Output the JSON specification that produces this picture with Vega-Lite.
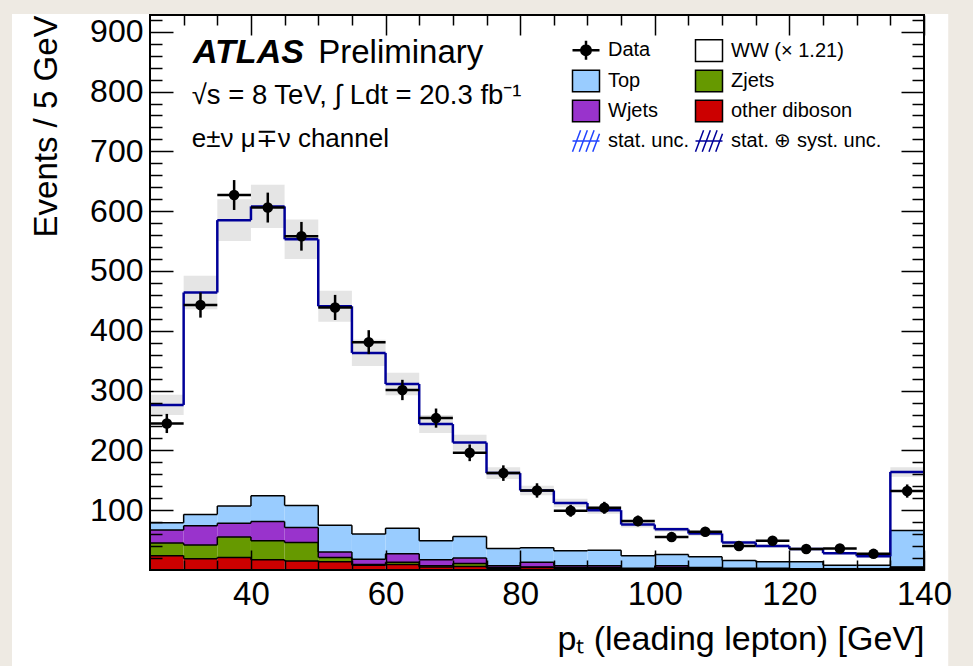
{
  "$schema": "https://vega.github.io/schema/vega-lite/v6.json",
  "width": 774,
  "height": 555,
  "autosize": {"type": "none"},
  "padding": {"left": 150, "top": 15, "right": 49, "bottom": 96},
  "background": "#eeeae3",
  "config": {
    "view": {"stroke": null},
    "font": "Liberation Sans",
    "axis": {"domain": false, "grid": false, "tickColor": "black", "labelColor": "black", "titleColor": "black", "labelFont": "Liberation Sans", "titleFont": "Liberation Sans", "titleFontWeight": "normal", "tickWidth": 1.5}
  },
  "datasets": {
    "bins": [
      {"lo": 25, "hi": 30, "pt": 27.5, "obs": 245, "err": 16, "mc": 276, "blo": 259, "bhi": 293, "s1_dib": 24, "s2_zjets": 21, "s3_wjets": 22, "s4_top": 12, "s5_ww": 197},
      {"lo": 30, "hi": 35, "pt": 32.5, "obs": 443, "err": 21, "mc": 464, "blo": 436, "bhi": 492, "s1_dib": 19, "s2_zjets": 23, "s3_wjets": 32, "s4_top": 19, "s5_ww": 371},
      {"lo": 35, "hi": 40, "pt": 37.5, "obs": 627, "err": 25, "mc": 585, "blo": 550, "bhi": 620, "s1_dib": 21, "s2_zjets": 34, "s3_wjets": 23, "s4_top": 29, "s5_ww": 478},
      {"lo": 40, "hi": 45, "pt": 42.5, "obs": 606, "err": 25, "mc": 608, "blo": 572, "bhi": 644, "s1_dib": 17, "s2_zjets": 32, "s3_wjets": 32, "s4_top": 43, "s5_ww": 484},
      {"lo": 45, "hi": 50, "pt": 47.5, "obs": 558, "err": 24, "mc": 553, "blo": 520, "bhi": 586, "s1_dib": 15, "s2_zjets": 31, "s3_wjets": 25, "s4_top": 37, "s5_ww": 445},
      {"lo": 50, "hi": 55, "pt": 52.5, "obs": 439, "err": 21, "mc": 441, "blo": 415, "bhi": 467, "s1_dib": 14, "s2_zjets": 7, "s3_wjets": 9, "s4_top": 45, "s5_ww": 366},
      {"lo": 55, "hi": 60, "pt": 57.5, "obs": 381, "err": 20, "mc": 363, "blo": 341, "bhi": 385, "s1_dib": 8, "s2_zjets": 1, "s3_wjets": 9, "s4_top": 42, "s5_ww": 303},
      {"lo": 60, "hi": 65, "pt": 62.5, "obs": 301, "err": 17, "mc": 311, "blo": 292, "bhi": 330, "s1_dib": 9, "s2_zjets": 4, "s3_wjets": 14, "s4_top": 43, "s5_ww": 241},
      {"lo": 65, "hi": 70, "pt": 67.5, "obs": 254, "err": 16, "mc": 244, "blo": 229, "bhi": 259, "s1_dib": 5, "s2_zjets": 2, "s3_wjets": 10, "s4_top": 32, "s5_ww": 195},
      {"lo": 70, "hi": 75, "pt": 72.5, "obs": 196, "err": 14, "mc": 213, "blo": 200, "bhi": 226, "s1_dib": 6, "s2_zjets": 5, "s3_wjets": 9, "s4_top": 36, "s5_ww": 157},
      {"lo": 75, "hi": 80, "pt": 77.5, "obs": 162, "err": 13, "mc": 162, "blo": 152, "bhi": 172, "s1_dib": 3, "s2_zjets": 1, "s3_wjets": 3, "s4_top": 29, "s5_ww": 126},
      {"lo": 80, "hi": 85, "pt": 82.5, "obs": 133, "err": 12, "mc": 133, "blo": 125, "bhi": 141, "s1_dib": 4, "s2_zjets": 1, "s3_wjets": 8, "s4_top": 24, "s5_ww": 96},
      {"lo": 85, "hi": 90, "pt": 87.5, "obs": 99, "err": 10, "mc": 112, "blo": 105, "bhi": 119, "s1_dib": 3, "s2_zjets": 1, "s3_wjets": 3, "s4_top": 25, "s5_ww": 80},
      {"lo": 90, "hi": 95, "pt": 92.5, "obs": 104, "err": 10, "mc": 100, "blo": 94, "bhi": 106, "s1_dib": 3, "s2_zjets": 1, "s3_wjets": 3, "s4_top": 26, "s5_ww": 67},
      {"lo": 95, "hi": 100, "pt": 97.5, "obs": 82, "err": 9, "mc": 76, "blo": 71, "bhi": 81, "s1_dib": 2, "s2_zjets": 0, "s3_wjets": 1, "s4_top": 21, "s5_ww": 52},
      {"lo": 100, "hi": 105, "pt": 102.5, "obs": 55, "err": 7, "mc": 68, "blo": 64, "bhi": 72, "s1_dib": 3, "s2_zjets": 1, "s3_wjets": 3, "s4_top": 19, "s5_ww": 42},
      {"lo": 105, "hi": 110, "pt": 107.5, "obs": 64, "err": 8, "mc": 61, "blo": 57, "bhi": 65, "s1_dib": 2, "s2_zjets": 1, "s3_wjets": 1, "s4_top": 18, "s5_ww": 39},
      {"lo": 110, "hi": 115, "pt": 112.5, "obs": 40, "err": 6, "mc": 46, "blo": 43, "bhi": 49, "s1_dib": 1, "s2_zjets": 1, "s3_wjets": 1, "s4_top": 13, "s5_ww": 30},
      {"lo": 115, "hi": 120, "pt": 117.5, "obs": 49, "err": 7, "mc": 40, "blo": 37, "bhi": 43, "s1_dib": 1, "s2_zjets": 1, "s3_wjets": 1, "s4_top": 11, "s5_ww": 26},
      {"lo": 120, "hi": 125, "pt": 122.5, "obs": 35, "err": 6, "mc": 35, "blo": 33, "bhi": 37, "s1_dib": 1, "s2_zjets": 0, "s3_wjets": 1, "s4_top": 12, "s5_ww": 21},
      {"lo": 125, "hi": 130, "pt": 127.5, "obs": 36, "err": 6, "mc": 28, "blo": 26, "bhi": 30, "s1_dib": 1, "s2_zjets": 0, "s3_wjets": 1, "s4_top": 6, "s5_ww": 20},
      {"lo": 130, "hi": 135, "pt": 132.5, "obs": 27, "err": 5, "mc": 23, "blo": 21, "bhi": 25, "s1_dib": 1, "s2_zjets": 0, "s3_wjets": 1, "s4_top": 6, "s5_ww": 15},
      {"lo": 135, "hi": 140, "pt": 137.5, "obs": 132, "err": 11, "mc": 164, "blo": 156, "bhi": 172, "s1_dib": 3, "s2_zjets": 1, "s3_wjets": 1, "s4_top": 61, "s5_ww": 98}
    ]
  },
  "layer": [
    {
      "data": {"values": [{"panel": "bg"}]},
      "mark": {"type": "rect", "fill": "white", "clip": false},
      "encoding": {
        "x": {"datum": 4.5, "type": "quantitative", "scale": {"domain": [25, 140], "nice": false, "zero": false}, "axis": null},
        "x2": {"datum": 143.6},
        "y": {"datum": 929.7, "type": "quantitative", "scale": {"domain": [0, 928], "nice": false, "zero": false}, "axis": null},
        "y2": {"datum": -175}
      }
    },
    {
      "data": {"name": "bins"},
      "transform": [
        {"fold": ["s1_dib", "s2_zjets", "s3_wjets", "s4_top", "s5_ww"]},
        {"stack": "value", "groupby": ["lo"], "sort": [{"field": "key"}], "as": ["y0", "y1"]}
      ],
      "mark": {"type": "rect", "strokeWidth": 0},
      "encoding": {
        "x": {"field": "lo", "type": "quantitative", "scale": {"domain": [25, 140], "nice": false, "zero": false},
          "axis": {"orient": "bottom", "zindex": 2, "values": [40, 60, 80, 100, 120, 140], "tickSize": -20, "labelPadding": 28, "labelFontSize": 33, "labelFlush": false, "title": "pₜ (leading lepton) [GeV]", "titleFontSize": 34, "titleAnchor": "end", "titleAlign": "right", "titlePadding": 11}},
        "x2": {"field": "hi"},
        "y": {"field": "y1", "type": "quantitative", "scale": {"domain": [0, 928], "nice": false, "zero": false},
          "axis": {"orient": "left", "zindex": 2, "values": [100, 200, 300, 400, 500, 600, 700, 800, 900], "tickSize": -23, "labelPadding": 30, "labelFontSize": 32, "title": "Events / 5 GeV", "titleFontSize": 33, "titleAnchor": "end", "titlePadding": 26}},
        "y2": {"field": "y0"},
        "color": {"field": "key", "type": "nominal",
          "scale": {"domain": ["data", "s4_top", "s3_wjets", "stat", "s5_ww", "s2_zjets", "s1_dib", "syst"],
                    "range": ["#000000", "#99ccff", "#9933cc", "rgba(0,0,0,0)", "#ffffff", "#669900", "#cc0000", "rgba(0,0,0,0)"]},
          "legend": {
            "title": null, "orient": "none", "legendX": 426, "legendY": 25, "columns": 2, "padding": 0,
            "labelFont": "Liberation Sans", "labelFontSize": 20, "labelColor": "black", "labelOffset": 12, "labelLimit": 400,
            "symbolSize": 729, "symbolStrokeColor": "black", "symbolStrokeWidth": 1.5, "symbolOpacity": 1,
            "rowPadding": 2, "columnPadding": 2,
            "labelExpr": "datum.value === 'data' ? 'Data' : datum.value === 's5_ww' ? 'WW  (× 1.21)' : datum.value === 's4_top' ? 'Top' : datum.value === 's2_zjets' ? 'Zjets' : datum.value === 's3_wjets' ? 'Wjets' : datum.value === 's1_dib' ? 'other diboson' : datum.value === 'stat' ? 'stat. unc.' : 'stat. ⊕ syst. unc.'",
            "encode": {"symbols": {"update": {
              "shape": {"signal": "datum.value === 'data' ? 'M-1,0H1M0,-0.7V0.7M-0.35,0A0.35,0.35 0 1,0 0.35,0A0.35,0.35 0 1,0 -0.35,0' : (datum.value === 'stat' || datum.value === 'syst') ? 'M-1,0H1M-1,0.8L-0.4,-0.8M-0.5,0.8L0.1,-0.8M0,0.8L0.6,-0.8M0.5,0.8L1,-0.53' : 'M-1,-0.8H1V0.8H-1Z'"},
              "stroke": {"signal": "datum.value === 'stat' ? '#2244ff' : datum.value === 'syst' ? '#000099' : 'black'"},
              "strokeWidth": {"signal": "datum.value === 'data' ? 2.5 : 1.5"}
            }}}
          }}
      }
    },
    {
      "data": {"name": "bins"},
      "mark": {"type": "rect", "fill": "#999999", "opacity": 0.25},
      "encoding": {
        "x": {"field": "lo", "type": "quantitative", "scale": {"domain": [25, 140], "nice": false, "zero": false},
          "axis": {"orient": "bottom", "zindex": 2, "values": [30, 35, 45, 50, 55, 65, 70, 75, 85, 90, 95, 105, 110, 115, 125, 130, 135], "tickSize": -10, "labels": false, "title": null}},
        "x2": {"field": "hi"},
        "y": {"field": "blo", "type": "quantitative", "scale": {"domain": [0, 928], "nice": false, "zero": false},
          "axis": {"orient": "left", "zindex": 2, "values": [20, 40, 60, 80, 120, 140, 160, 180, 220, 240, 260, 280, 320, 340, 360, 380, 420, 440, 460, 480, 520, 540, 560, 580, 620, 640, 660, 680, 720, 740, 760, 780, 820, 840, 860, 880, 920], "tickSize": -12, "labels": false, "title": null}},
        "y2": {"field": "bhi"}
      }
    },
    {
      "data": {"name": "bins"},
      "transform": [
        {"fold": ["s1_dib", "s2_zjets", "s3_wjets", "s4_top", "s5_ww"]},
        {"stack": "value", "groupby": ["lo"], "sort": [{"field": "key"}], "as": ["y0", "y1"]},
        {"filter": "datum.key !== 's5_ww'"}
      ],
      "mark": {"type": "rule", "color": "black", "strokeWidth": 1.5},
      "encoding": {
        "x": {"field": "lo", "type": "quantitative", "scale": {"domain": [25, 140], "nice": false, "zero": false},
          "axis": {"orient": "top", "zindex": 2, "values": [40, 60, 80, 100, 120, 140], "tickSize": -20, "labels": false, "title": null}},
        "x2": {"field": "hi"},
        "y": {"field": "y1", "type": "quantitative", "scale": {"domain": [0, 928], "nice": false, "zero": false},
          "axis": {"orient": "right", "zindex": 2, "values": [100, 200, 300, 400, 500, 600, 700, 800, 900], "tickSize": -23, "labels": false, "title": null}}
      }
    },
    {
      "data": {"name": "bins"},
      "transform": [
        {"fold": ["s1_dib", "s2_zjets", "s3_wjets", "s4_top", "s5_ww"]},
        {"stack": "value", "groupby": ["lo"], "sort": [{"field": "key"}], "as": ["y0", "y1"]},
        {"filter": "datum.key !== 's5_ww'"},
        {"window": [{"op": "lead", "field": "y1", "as": "ny1"}], "groupby": ["key"], "sort": [{"field": "lo"}]},
        {"filter": "datum.ny1 != null"}
      ],
      "mark": {"type": "rule", "color": "black", "strokeWidth": 1.5},
      "encoding": {
        "x": {"field": "hi", "type": "quantitative", "scale": {"domain": [25, 140], "nice": false, "zero": false},
          "axis": {"orient": "top", "zindex": 2, "values": [30, 35, 45, 50, 55, 65, 70, 75, 85, 90, 95, 105, 110, 115, 125, 130, 135], "tickSize": -10, "labels": false, "title": null}},
        "y": {"field": "y1", "type": "quantitative", "scale": {"domain": [0, 928], "nice": false, "zero": false},
          "axis": {"orient": "right", "zindex": 2, "values": [20, 40, 60, 80, 120, 140, 160, 180, 220, 240, 260, 280, 320, 340, 360, 380, 420, 440, 460, 480, 520, 540, 560, 580, 620, 640, 660, 680, 720, 740, 760, 780, 820, 840, 860, 880, 920], "tickSize": -12, "labels": false, "title": null}},
        "y2": {"field": "ny1"}
      }
    },
    {
      "data": {"name": "bins"},
      "mark": {"type": "rule", "color": "#000099", "strokeWidth": 2.5},
      "encoding": {
        "x": {"field": "lo", "type": "quantitative", "scale": {"domain": [25, 140], "nice": false, "zero": false}, "axis": null},
        "x2": {"field": "hi"},
        "y": {"field": "mc", "type": "quantitative", "scale": {"domain": [0, 928], "nice": false, "zero": false}, "axis": null}
      }
    },
    {
      "data": {"name": "bins"},
      "transform": [
        {"window": [{"op": "lead", "field": "mc", "as": "nmc"}], "sort": [{"field": "lo"}]},
        {"filter": "datum.nmc != null"}
      ],
      "mark": {"type": "rule", "color": "#000099", "strokeWidth": 2.5},
      "encoding": {
        "x": {"field": "hi", "type": "quantitative", "scale": {"domain": [25, 140], "nice": false, "zero": false}, "axis": null},
        "y": {"field": "mc", "type": "quantitative", "scale": {"domain": [0, 928], "nice": false, "zero": false}, "axis": null},
        "y2": {"field": "nmc"}
      }
    },
    {
      "data": {"name": "bins"},
      "mark": {"type": "rule", "color": "black", "strokeWidth": 2.5},
      "encoding": {
        "x": {"field": "lo", "type": "quantitative", "scale": {"domain": [25, 140], "nice": false, "zero": false}, "axis": null},
        "x2": {"field": "hi"},
        "y": {"field": "obs", "type": "quantitative", "scale": {"domain": [0, 928], "nice": false, "zero": false}, "axis": null}
      }
    },
    {
      "data": {"name": "bins"},
      "mark": {"type": "errorbar", "ticks": false, "thickness": 2.5, "color": "black"},
      "encoding": {
        "x": {"field": "pt", "type": "quantitative", "scale": {"domain": [25, 140], "nice": false, "zero": false}, "axis": null},
        "y": {"field": "obs", "type": "quantitative", "scale": {"domain": [0, 928], "nice": false, "zero": false}, "axis": null},
        "yError": {"field": "err"}
      }
    },
    {
      "data": {"name": "bins"},
      "mark": {"type": "point", "filled": true, "shape": "circle", "size": 110, "color": "black", "opacity": 1},
      "encoding": {
        "x": {"field": "pt", "type": "quantitative", "scale": {"domain": [25, 140], "nice": false, "zero": false}, "axis": null},
        "y": {"field": "obs", "type": "quantitative", "scale": {"domain": [0, 928], "nice": false, "zero": false}, "axis": null}
      }
    },
    {
      "data": {"values": [{"panel": "frame"}]},
      "mark": {"type": "rect", "fill": null, "fillOpacity": 0, "stroke": "black", "strokeWidth": 2},
      "encoding": {
        "x": {"datum": 25, "type": "quantitative", "scale": {"domain": [25, 140], "nice": false, "zero": false}, "axis": null},
        "x2": {"datum": 140},
        "y": {"datum": 0, "type": "quantitative", "scale": {"domain": [0, 928], "nice": false, "zero": false}, "axis": null},
        "y2": {"datum": 928}
      }
    },
    {
      "data": {"values": [{"label": "ATLAS"}]},
      "mark": {"type": "text", "font": "Liberation Sans", "fontSize": 34, "fontWeight": "bold", "fontStyle": "italic", "align": "left", "baseline": "alphabetic", "color": "black"},
      "encoding": {
        "x": {"datum": 31.4, "type": "quantitative", "scale": {"domain": [25, 140], "nice": false, "zero": false}, "axis": null},
        "y": {"datum": 848, "type": "quantitative", "scale": {"domain": [0, 928], "nice": false, "zero": false}, "axis": null},
        "text": {"field": "label"}
      }
    },
    {
      "data": {"values": [{"label": "Preliminary"}]},
      "mark": {"type": "text", "font": "Liberation Sans", "fontSize": 33, "align": "left", "baseline": "alphabetic", "color": "black"},
      "encoding": {
        "x": {"datum": 50.0, "type": "quantitative", "scale": {"domain": [25, 140], "nice": false, "zero": false}, "axis": null},
        "y": {"datum": 848, "type": "quantitative", "scale": {"domain": [0, 928], "nice": false, "zero": false}, "axis": null},
        "text": {"field": "label"}
      }
    },
    {
      "data": {"values": [{"label": "√s = 8 TeV, ∫ Ldt = 20.3 fb⁻¹"}]},
      "mark": {"type": "text", "font": "Liberation Sans", "fontSize": 27.5, "align": "left", "baseline": "alphabetic", "color": "black"},
      "encoding": {
        "x": {"datum": 31.2, "type": "quantitative", "scale": {"domain": [25, 140], "nice": false, "zero": false}, "axis": null},
        "y": {"datum": 780, "type": "quantitative", "scale": {"domain": [0, 928], "nice": false, "zero": false}, "axis": null},
        "text": {"field": "label"}
      }
    },
    {
      "data": {"values": [{"label": "e±ν μ∓ν channel"}]},
      "mark": {"type": "text", "font": "Liberation Sans", "fontSize": 26, "align": "left", "baseline": "alphabetic", "color": "black"},
      "encoding": {
        "x": {"datum": 31.2, "type": "quantitative", "scale": {"domain": [25, 140], "nice": false, "zero": false}, "axis": null},
        "y": {"datum": 707, "type": "quantitative", "scale": {"domain": [0, 928], "nice": false, "zero": false}, "axis": null},
        "text": {"field": "label"}
      }
    }
  ],
  "resolve": {"axis": {"x": "independent", "y": "independent"}}
}
